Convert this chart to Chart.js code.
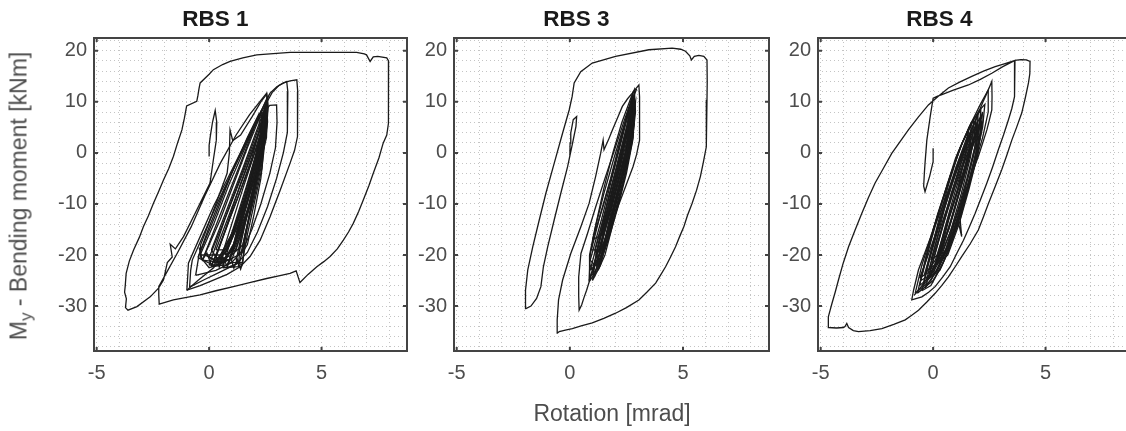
<!DOCTYPE html>
<html>
<head>
<meta charset="utf-8">
<title>RBS hysteresis</title>
<script src="https://cdn.jsdelivr.net/npm/chart.js@4.4.1/dist/chart.umd.min.js"></script>
<style>
  body { margin: 0; background: #fff; }
  #wrap { position: relative; width: 1126px; height: 431px; overflow: hidden; font-family: "Liberation Sans", Arial, sans-serif; }
  canvas { position: absolute; top: 0; }
  .axlabel { position: absolute; color: #4d4d4d; font-size: 23px; white-space: nowrap; line-height: 1; }
  #ylabel { left: 21px; top: 196px; transform: translate(-50%, -50%) rotate(-90deg); }
  #ylabel sub { font-size: 17px; vertical-align: -5px; }
  #xlabel { left: 612px; top: 413px; transform: translate(-50%, -50%); }
</style>
</head>
<body>
<div id="wrap">
  <canvas id="c1"></canvas>
  <canvas id="c2"></canvas>
  <canvas id="c3"></canvas>
  <div id="ylabel" class="axlabel">M<sub>y</sub> - Bending moment [kNm]</div>
  <div id="xlabel" class="axlabel">Rotation [mrad]</div>
</div>
<script>
// axis setup (rotation in mrad, moment in kNm)
const xMin = -5.12, xMax = 8.8;
const yMin = -38.8, yMax = 22.5;
const xMajor = [-5, 0, 5];
const yMajor = [-30, -20, -10, 0, 10, 20];
const xGrid = [-5, -4, -3, -2, -1, 0, 1, 2, 3, 4, 5, 6, 7, 8];
const yGrid = [-38, -36, -34, -32, -30, -28, -26, -24, -22, -20, -18, -16, -14, -12, -10, -8, -6, -4, -2,
               0, 2, 4, 6, 8, 10, 12, 14, 16, 18, 20, 22];
const panelTitles = ['RBS 1', 'RBS 3', 'RBS 4'];

// ---- RBS 1 : [rotation, moment] ----
const rbs1Outer = [[0,-0.7],[0,1.5],[0.05,3.2],[0.15,6],[0.27,8.3],[0.34,6],[0.32,2.5],[0.2,-1],[0.04,-5.9],[-0.55,-11.2],[-1.14,-16.4],[-1.5,-18.8],[-1.73,-17.9],[-1.64,-20.4],[-1.86,-21.5],[-2.03,-24.9],[-2.25,-26.5],[-2.62,-28.2],[-3.21,-30.1],[-3.61,-30.8],[-3.72,-30.3],[-3.68,-28.6],[-3.76,-27.3],[-3.73,-26.0],[-3.69,-23.6],[-3.55,-21.2],[-3.36,-19.0],[-3.1,-16.5],[-2.92,-14.4],[-2.7,-12.3],[-2.48,-9.9],[-2.25,-7.6],[-2.03,-5.3],[-1.8,-3.1],[-1.59,-0.7],[-1.4,2.0],[-1.21,4.5],[-1.1,6.8],[-1.0,9.2],[-0.55,10.1],[-0.5,11.2],[-0.45,12.6],[-0.4,13.7],[0.0,15.4],[0.19,16.3],[0.6,17.3],[0.93,17.9],[1.5,18.6],[2.12,19.2],[3.0,19.5],[3.6,19.7],[5.2,19.7],[6.56,19.7],[6.9,19.4],[7.0,19.2],[7.16,17.9],[7.3,18.8],[7.5,18.9],[7.9,18.6],[7.98,18.0],[7.98,12],[7.97,5.8],[7.9,3.5],[7.74,1.9],[7.55,-1],[7.3,-4.0],[7.1,-6.5],[6.86,-9.2],[6.65,-11.5],[6.41,-13.8],[6.2,-15.5],[5.97,-17.1],[5.7,-18.8],[5.38,-20.3],[5.1,-21.3],[4.79,-22.3],[4.4,-23.8],[4.04,-25.4],[3.87,-23.1],[3.6,-23.6],[3.1,-24.1],[2.56,-24.6],[1.8,-25.4],[1.08,-26.2],[0.3,-27.0],[-0.4,-27.8],[-1.0,-28.3],[-1.59,-28.8],[-2.22,-29.6],[-2.24,-27.8],[-2.24,-26.2],[-1.9,-23.5],[-1.4,-19.5],[-0.8,-14.5],[-0.2,-8.5],[0.5,-2],[1.2,3.5],[1.8,7.5],[2.3,10.3],[2.56,11.7],[2.62,9],[2.5,4],[2.2,-2],[1.8,-8],[1.3,-14],[0.8,-19],[0.2,-22.5],[-0.5,-25],[-0.99,-26.9]];
const rbs1Loop1 = [[-0.99,-26.9],[-0.95,-24],[-0.92,-21.6],[-0.4,-16.4],[0.19,-10.5],[0.79,-5.3],[1.38,-0.1],[1.97,5.2],[2.41,9.1],[2.71,11.7],[3.0,12.9],[3.3,13.7],[3.6,14.1],[3.9,14.3],[3.94,12],[3.93,3.2],[3.8,0.5],[3.6,-2.0],[3.16,-7.3],[2.71,-12.5],[2.27,-17.1],[1.82,-20.3],[1.38,-22.3],[0.8,-23.8],[0.19,-24.9],[-0.4,-26],[-0.99,-26.9]];
const rbs1Loop2 = [[-0.87,-26.3],[-0.82,-23],[-0.75,-21],[-0.2,-15.5],[0.4,-9.5],[1.0,-4],[1.55,1],[2.05,5.5],[2.45,9],[2.8,11.8],[3.1,13.2],[3.45,14.0],[3.5,12],[3.48,4],[3.3,0],[3.0,-5],[2.6,-10.5],[2.15,-15.5],[1.7,-19.5],[1.2,-21.8],[0.5,-23.3],[-0.2,-24.8],[-0.87,-26.3]];
const rbs1Loop3 = [[-0.6,-24],[-0.45,-20],[0.0,-14.5],[0.6,-8],[1.2,-2],[1.8,3.5],[2.3,7.5],[2.7,9.3],[3.0,9.4],[3.02,6],[2.95,1],[2.7,-4],[2.3,-10],[1.9,-15],[1.5,-19],[1.0,-21.5],[0.3,-23],[-0.6,-24]];
const rbs1Loop4 = [[-0.4,-20.3],[-0.38,-18],[-0.2,-16],[0.3,-10],[0.8,-4],[0.9,0],[0.93,4.5],[1.05,2.4],[1.4,3.5],[1.9,7],[2.3,10],[2.56,11.5],[2.62,9],[2.55,4],[2.3,-2],[1.95,-8],[1.5,-14],[1.1,-18.5],[0.6,-21.5],[0.0,-22.5],[-0.4,-20.3]];
const rbs1Core = [
  [[-0.3,-21],[0.5,-12],[1.4,-2],[2.1,6],[2.55,10.5],[2.6,6],[2.3,-2],[1.8,-10],[1.2,-17],[0.6,-21.5],[-0.3,-21]],
  [[0.0,-22],[0.7,-13],[1.5,-4],[2.2,4],[2.5,8.5],[2.5,4],[2.2,-4],[1.7,-12],[1.2,-18],[0.8,-22],[0.0,-22]],
  [[0.3,-20.5],[0.9,-13],[1.6,-5],[2.2,2],[2.45,7],[2.35,1],[2.0,-7],[1.5,-15],[1.0,-21],[0.3,-20.5]],
  [[0.6,-22.5],[1.1,-15],[1.6,-8],[2.1,0],[2.4,6],[2.3,0],[1.9,-9],[1.4,-17],[1.3,-22.3],[0.6,-22.5]],
  [[-0.4,-20],[0.2,-14],[0.9,-6],[1.6,1],[2.3,8],[2.4,4],[2.0,-3],[1.5,-10],[1.0,-16],[0.5,-20],[-0.4,-20]],
  [[0.9,-21.5],[1.3,-14],[1.8,-6],[2.2,0],[2.35,-2],[2.0,-9],[1.6,-16],[1.5,-21.5],[0.9,-21.5]],
  [[0.1,-19],[0.8,-11],[1.5,-3],[2.0,3],[2.5,9],[2.45,5],[2.0,-2],[1.6,-9],[1.1,-15],[0.4,-21],[0.1,-19]],
  [[1.0,-20],[1.4,-13],[1.9,-4],[2.2,2],[2.25,-3],[1.9,-10],[1.5,-18],[1.0,-20]],
  [[0.4,-22],[1.0,-16],[1.6,-9],[2.1,-2],[2.6,11],[2.55,3],[2.1,-5],[1.7,-12],[1.3,-20],[0.4,-22]],
  [[-0.5,-20.5],[0.3,-12],[1.0,-4],[1.7,3],[2.2,7.5],[2.3,3],[1.9,-5],[1.4,-13],[0.8,-19],[0.2,-22],[-0.5,-20.5]],
  [[0.2,-21.5],[0.8,-14],[1.4,-6],[1.9,0],[2.3,5],[2.5,9.5],[2.45,4],[2.1,-3],[1.7,-10],[1.3,-16],[0.9,-21],[0.2,-21.5]],
  [[0.5,-21],[1.0,-14],[1.5,-7],[1.95,-1],[2.35,5],[2.55,10],[2.5,5],[2.2,-1],[1.8,-8],[1.4,-14],[1.0,-20],[0.5,-21]],
  [[0.7,-20],[1.2,-13],[1.7,-6],[2.1,0],[2.4,5.5],[2.35,0],[2.0,-6],[1.6,-13],[1.2,-19],[0.7,-20]],
  [[-0.2,-20],[0.5,-13],[1.1,-6],[1.7,1],[2.2,6.5],[2.45,8],[2.3,2],[1.9,-5],[1.4,-12],[0.9,-18],[0.3,-21],[-0.2,-20]],
  [[1.2,-21],[1.5,-15],[1.9,-8],[2.2,-2],[2.45,3],[2.35,-3],[2.0,-10],[1.7,-16],[1.45,-22],[1.2,-21]],
  [[0.3,-19],[0.9,-12],[1.5,-5],[2.0,1],[2.35,6],[2.2,0],[1.8,-7],[1.3,-13],[0.8,-19],[0.3,-19]],
  [[0.0,-20.5],[0.6,-14],[1.2,-7],[1.8,0],[2.3,6],[2.6,10.5],[2.55,6],[2.25,0],[1.85,-7],[1.4,-14],[1.0,-19],[0.5,-21.5],[0.0,-20.5]],
  [[0.8,-22.5],[1.2,-16],[1.7,-9],[2.1,-3],[2.4,2],[2.5,4],[2.3,-2],[1.9,-10],[1.6,-17],[1.35,-21.5],[0.8,-22.5]],
  [[1.4,-20],[1.7,-14],[2.0,-7],[2.3,-1],[2.45,1],[2.3,-5],[2.0,-12],[1.7,-18],[1.4,-20]],
  [[0.1,-22.3],[0.7,-15.5],[1.3,-8.5],[1.9,-1],[2.4,7],[2.45,3],[2.1,-4],[1.6,-11],[1.1,-18],[0.6,-22],[0.1,-22.3]],
  [[-0.45,-18.5],[-0.3,-21],[-0.1,-19.6],[0.1,-22],[0.3,-20],[0.45,-22.4],[0.6,-20.2],[0.8,-22.2],[0.95,-20.4],[1.1,-22.6],[1.25,-20.8],[1.4,-22.8],[1.5,-21.5]]
];

// ---- RBS 3 ----
const rbs3Outer = [[0,-0.7],[0.01,1.9],[0.04,3.9],[0.15,6.5],[0.3,7.1],[0.27,5.2],[0.12,1.9],[-0.1,-2.7],[-0.4,-7.9],[-0.69,-13.1],[-0.98,-18.4],[-1.17,-22.3],[-1.28,-26.2],[-1.47,-28.5],[-1.72,-30.0],[-1.94,-30.5],[-1.96,-28.5],[-1.96,-26.9],[-1.86,-22.9],[-1.64,-18.4],[-1.35,-13.1],[-1.06,-7.9],[-0.69,-2.0],[-0.32,3.9],[-0.03,8.4],[0.1,11],[0.19,13.7],[0.48,15.9],[0.99,17.6],[2.02,18.9],[3.49,20.2],[4.52,20.5],[4.9,20.3],[5.11,19.9],[5.3,19.0],[5.37,18.2],[5.5,18.9],[5.7,19.1],[5.92,18.9],[6.06,18.2],[6.07,14],[6.06,10.4],[6.04,5],[6.02,1.2],[5.9,-1.8],[5.77,-4.6],[5.6,-7.3],[5.4,-9.9],[5.2,-12.2],[5.04,-14.4],[4.85,-16.4],[4.67,-18.4],[4.45,-20.4],[4.23,-22.3],[4.0,-24],[3.79,-25.5],[3.4,-27.3],[3.05,-28.8],[2.5,-30.3],[2.02,-31.4],[1.5,-32.4],[0.99,-33.3],[0.5,-33.9],[0.11,-34.4],[-0.2,-34.7],[-0.47,-35.0],[-0.55,-35.3],[-0.56,-32.7],[-0.5,-28.8],[-0.32,-24.9],[0.04,-19.7],[0.49,-14.4],[0.85,-9.9],[1.14,-4.6],[1.36,-0.1],[1.47,2.5],[1.51,0.6],[1.7,2.5],[1.88,4.5],[2.1,6.8],[2.32,9.1],[2.55,10.6],[2.76,11.7],[2.9,12.5],[3.05,13.3],[3.08,11],[3.08,7],[3.08,2.5],[2.95,-0.3],[2.79,-2.7],[2.57,-5.3],[2.35,-7.9],[2.13,-10.5],[1.91,-13.1],[1.69,-15.8],[1.47,-18.4],[1.25,-20.7],[1.03,-22.9],[0.88,-24.9],[0.74,-26.9],[0.62,-28.4],[0.52,-29.8],[0.41,-30.8],[0.39,-28],[0.39,-24.3],[0.49,-19.7],[0.78,-15.8],[1.14,-10.6],[1.58,-4.6],[2.02,1.2],[2.46,7.1],[2.76,10.4],[2.95,12.5]];
const rbs3Core = [
  [[0.85,-25.2],[0.9,-20],[1.15,-14],[1.5,-7],[1.9,0],[2.3,6],[2.7,10.8],[2.85,12.4],[2.9,8],[2.75,2],[2.4,-5],[2.0,-12],[1.6,-18],[1.2,-23],[0.85,-25.2]],
  [[1.0,-24],[1.3,-17],[1.7,-9],[2.1,-2],[2.5,5],[2.8,11],[2.83,6],[2.6,-1],[2.2,-8],[1.8,-15],[1.4,-21],[1.0,-24]],
  [[0.9,-21],[1.4,-13],[1.8,-6],[2.2,1],[2.55,7],[2.75,10],[2.7,4],[2.35,-3],[1.95,-10],[1.55,-17],[1.1,-22],[0.9,-21]],
  [[1.2,-22],[1.5,-15],[1.9,-8],[2.3,-1],[2.6,6],[2.7,8.5],[2.6,2],[2.3,-5],[1.9,-12],[1.5,-19],[1.2,-22]],
  [[1.1,-19],[1.6,-11],[2.0,-4],[2.4,3],[2.8,10],[2.72,3],[2.4,-3],[2.0,-10],[1.6,-17],[1.3,-21],[1.1,-19]],
  [[1.3,-20],[1.7,-12],[2.1,-5],[2.5,2],[2.65,5],[2.5,-1],[2.1,-8],[1.7,-15],[1.3,-20]],
  [[1.0,-17],[1.5,-10],[1.95,-3],[2.35,4],[2.6,9],[2.55,5],[2.25,-2],[1.85,-9],[1.45,-16],[1.0,-17]],
  [[1.4,-16],[1.8,-9],[2.2,-2],[2.55,4],[2.7,7],[2.45,0],[2.05,-7],[1.6,-14],[1.4,-16]],
  [[0.85,-25],[0.87,-20],[1.1,-15],[1.5,-8],[1.95,-1],[2.4,5.5],[2.78,11.5],[2.8,7],[2.5,0],[2.05,-7],[1.6,-14],[1.2,-20],[0.85,-25]],
  [[0.9,-23],[1.3,-16],[1.75,-8],[2.2,-1],[2.6,6],[2.85,11],[2.85,6],[2.6,0],[2.2,-7],[1.8,-14],[1.35,-21],[0.9,-23]],
  [[1.05,-22],[1.45,-15],[1.85,-8],[2.25,-1],[2.6,5],[2.75,9],[2.7,3],[2.4,-3],[2.0,-10],[1.6,-17],[1.25,-22],[1.05,-22]],
  [[1.15,-20],[1.55,-13],[1.95,-6],[2.35,1],[2.65,7],[2.6,1],[2.3,-5],[1.9,-12],[1.5,-18],[1.15,-20]],
  [[0.95,-19],[1.35,-12],[1.8,-5],[2.2,2],[2.55,7.5],[2.75,11],[2.7,6],[2.45,0],[2.1,-6],[1.7,-13],[1.3,-19],[0.95,-19]],
  [[1.25,-23],[1.55,-17],[1.9,-10],[2.3,-3],[2.65,3],[2.8,6],[2.65,0],[2.3,-7],[1.9,-14],[1.55,-20],[1.25,-23]],
  [[1.0,-25],[1.2,-19],[1.6,-12],[2.0,-5],[2.45,2],[2.8,8.5],[2.9,10],[2.8,4],[2.5,-2],[2.1,-9],[1.7,-16],[1.35,-22],[1.0,-25]],
  [[1.5,-18],[1.9,-11],[2.3,-4],[2.6,2],[2.75,5],[2.55,-2],[2.2,-9],[1.8,-15],[1.5,-18]],
  [[0.9,-22],[1.1,-24],[1.4,-18],[1.8,-11],[2.2,-4],[2.5,1],[2.85,9],[2.8,3],[2.5,-4],[2.1,-11],[1.7,-17],[1.3,-22],[0.9,-22]]
];

// ---- RBS 4 ----
const rbs4Outer = [[0.0,0.9],[0.0,-1.7],[-0.15,-4.5],[-0.36,-7.6],[-0.42,-6.5],[-0.39,-4],[-0.36,-2.0],[-0.28,2.5],[-0.13,7.1],[0.0,10.7],[0.2,11.1],[0.39,11.4],[0.9,12.3],[1.57,13.3],[2.1,14.4],[2.61,15.6],[3.1,16.9],[3.64,18.1],[3.9,18.25],[4.15,18.2],[4.31,17.9],[4.3,15.5],[4.24,13.7],[4.1,10.8],[3.94,7.8],[3.72,5.1],[3.5,2.5],[3.28,-0.4],[3.05,-3.3],[2.76,-6.6],[2.46,-9.9],[2.24,-12.5],[2.01,-15.1],[1.65,-17.8],[1.27,-20.3],[0.98,-22.3],[0.68,-24.3],[0.38,-26],[0.09,-27.5],[-0.28,-29.2],[-0.65,-30.8],[-0.95,-31.8],[-1.24,-32.7],[-1.75,-33.6],[-2.28,-34.4],[-2.8,-34.8],[-3.32,-35.0],[-3.55,-34.8],[-3.76,-34.2],[-3.84,-33.4],[-3.92,-34.0],[-3.99,-34.2],[-4.3,-34.3],[-4.65,-34.2],[-4.67,-33.2],[-4.65,-32.1],[-4.58,-30.8],[-4.5,-29.5],[-4.35,-27.2],[-4.21,-24.9],[-4.0,-21.6],[-3.76,-18.4],[-3.47,-15.1],[-3.17,-11.8],[-2.88,-8.8],[-2.58,-5.9],[-2.21,-3.0],[-1.84,-0.1],[-1.47,2.2],[-1.1,4.5],[-0.66,7.0],[-0.21,9.4],[0.23,11.1],[0.68,12.7],[1.2,13.9],[1.72,15.0],[2.24,16.0],[2.76,16.9],[3.2,17.5],[3.64,18.1],[3.63,14.5],[3.61,11.0],[3.5,8.7],[3.35,6.5],[3.13,3.5],[2.9,0.6],[2.65,-2.7],[2.39,-5.9],[2.13,-8.9],[1.87,-11.8],[1.61,-14.5],[1.35,-17.1],[1.05,-19.7],[0.76,-22.3],[0.43,-24.3],[0.09,-26.2],[-0.2,-27.3],[-0.5,-28.2],[-0.95,-28.8],[-0.87,-26.9],[-0.65,-22.9],[-0.21,-17.7],[0.24,-12.5],[0.68,-7.3],[1.13,-2.0],[1.57,3.2],[2.01,7.8],[2.2,9.8],[2.39,11.7],[2.61,14.0],[2.62,11],[2.61,8.4],[2.5,6.4],[2.39,4.5],[2.2,1.9],[2.01,-0.7],[1.79,-3.3],[1.57,-5.9],[1.35,-8.5],[1.13,-11.2],[0.9,-13.8],[0.68,-16.4],[0.46,-18.7],[0.24,-21.0],[0.0,-22.7],[-0.21,-24.3],[-0.43,-25.6],[-0.65,-26.9],[-0.85,-27.9]];
const rbs4Core = [
  [[-0.5,-27],[-0.2,-21],[0.2,-14],[0.7,-6],[1.2,1],[1.7,6],[2.12,8.4],[2.1,4],[1.8,-2],[1.4,-9],[0.9,-16],[0.4,-22],[-0.1,-26],[-0.5,-27]],
  [[-0.3,-25],[0.1,-18],[0.5,-11],[1.0,-4],[1.5,2],[2.0,7.5],[1.95,3],[1.6,-4],[1.2,-11],[0.7,-18],[0.2,-23],[-0.3,-25]],
  [[-0.6,-26],[-0.3,-20],[0.2,-12],[0.8,-4],[1.3,2],[1.8,6.5],[1.75,2],[1.35,-5],[0.9,-12],[0.4,-19],[-0.1,-24],[-0.6,-26]],
  [[-0.2,-23],[0.3,-16],[0.8,-8],[1.3,-1],[1.7,4],[1.9,5],[1.65,-1],[1.25,-8],[0.8,-15],[0.3,-21],[-0.2,-23]],
  [[0.0,-24],[0.4,-17],[0.9,-10],[1.4,-3],[1.85,3],[2.2,6],[2.0,1],[1.6,-6],[1.2,-13],[1.27,-16.4],[1.13,-13.7],[0.7,-19],[0.3,-23],[0.0,-24]],
  [[-0.4,-24],[0.0,-18],[0.5,-10],[1.0,-3],[1.5,3],[1.6,5],[1.45,0],[1.1,-7],[0.6,-14],[0.1,-21],[-0.4,-24]],
  [[0.2,-21],[0.6,-14],[1.1,-7],[1.6,0],[2.0,5],[1.9,0],[1.5,-7],[1.0,-14],[0.5,-20],[0.2,-21]],
  [[-0.7,-27.5],[-0.4,-22],[0.0,-15],[0.6,-7],[1.1,0],[1.6,5],[2.05,8.3],[2.3,9.5],[2.2,5],[1.9,-1],[1.5,-8],[1.0,-15],[0.5,-21],[0.0,-25],[-0.7,-27.5]],
  [[-0.8,-27.5],[-0.5,-22],[0,-15],[0.5,-8],[1.0,-1],[1.6,5],[2.1,9.5],[2.45,12.3],[2.45,8],[2.2,3],[1.8,-3],[1.35,-10],[0.9,-16],[0.4,-21],[-0.1,-25],[-0.8,-27.5]],
  [[-0.45,-26],[-0.1,-20],[0.35,-13],[0.85,-6],[1.35,0],[1.85,5],[2.1,7],[1.95,2],[1.6,-4],[1.15,-11],[0.65,-18],[0.15,-23],[-0.45,-26]],
  [[-0.2,-24.5],[0.2,-18],[0.65,-11],[1.15,-4],[1.6,1.5],[1.95,6],[1.85,1],[1.5,-5],[1.05,-12],[0.55,-19],[0.05,-23],[-0.2,-24.5]],
  [[-0.55,-25],[-0.2,-19],[0.3,-11],[0.8,-4],[1.3,2],[1.7,5.5],[1.6,1],[1.25,-6],[0.8,-13],[0.3,-20],[-0.15,-24],[-0.55,-25]],
  [[0.1,-22],[0.5,-15],[0.95,-8],[1.45,-1],[1.9,4],[2.15,6],[2.0,0],[1.6,-7],[1.15,-14],[0.65,-20],[0.1,-22]],
  [[-0.35,-26.5],[0.0,-21],[0.45,-14],[0.95,-7],[1.45,-1],[1.9,3.5],[2.2,8],[2.1,3],[1.75,-3],[1.3,-10],[0.8,-17],[0.3,-22],[-0.35,-26.5]],
  [[-0.1,-21],[0.3,-15],[0.75,-9],[1.25,-2],[1.7,3],[1.55,-2],[1.15,-8],[0.7,-15],[0.2,-20],[-0.1,-21]],
  [[-0.6,-24.5],[-0.3,-21],[0.1,-16],[0.6,-9],[1.1,-2],[1.55,3],[1.9,6.5],[1.8,2],[1.4,-4],[0.95,-11],[0.45,-18],[-0.05,-23],[-0.6,-24.5]],
  [[0.3,-20],[0.7,-13],[1.2,-6],[1.65,0],[2.05,4.5],[1.95,-1],[1.55,-7],[1.1,-14],[0.6,-19],[0.3,-20]]
];

const panelLoops = [
  [rbs1Outer, rbs1Loop1, rbs1Loop2, rbs1Loop3, rbs1Loop4, ...rbs1Core],
  [rbs3Outer, ...rbs3Core],
  [rbs4Outer, ...rbs4Core]
];

// layout of the three axes boxes (page pixels)
const plotLeft = [94, 454, 818];
const plotWidth = [313, 315, 313];
const yAxisW = 70, rightPad = 10, xAxisH = 80;

const axisColor = '#444444';
const tickColor = '#4d4d4d';
const gridColor = '#c4c4c4';
const lineColor = '#1a1a1a';
const fontFamily = '"Liberation Sans", Arial, sans-serif';

// full box + inward tick marks like the original figure
const boxPlugin = {
  id: 'box',
  afterDraw(chart) {
    const { ctx, chartArea: a, scales: { x, y } } = chart;
    ctx.save();
    ctx.strokeStyle = axisColor;
    ctx.lineWidth = 2;
    ctx.strokeRect(a.left, a.top, a.right - a.left, a.bottom - a.top);
    ctx.beginPath();
    xMajor.forEach(v => {
      const p = x.getPixelForValue(v);
      ctx.moveTo(p, a.bottom); ctx.lineTo(p, a.bottom - 4);
      ctx.moveTo(p, a.top); ctx.lineTo(p, a.top + 4);
    });
    yMajor.forEach(v => {
      const p = y.getPixelForValue(v);
      ctx.moveTo(a.left, p); ctx.lineTo(a.left + 4, p);
      ctx.moveTo(a.right, p); ctx.lineTo(a.right - 4, p);
    });
    ctx.stroke();
    ctx.restore();
  }
};

function makeChart(i) {
  const canvas = document.getElementById('c' + (i + 1));
  canvas.width = yAxisW + plotWidth[i] + rightPad;
  canvas.height = 431;
  canvas.style.left = (plotLeft[i] - yAxisW) + 'px';

  const datasets = panelLoops[i].map(loop => ({
    data: loop.map(([x, y]) => ({ x, y })),
    showLine: true,
    borderColor: lineColor,
    borderWidth: 1.3,
    pointRadius: 0,
    fill: false,
    tension: 0
  }));

  return new Chart(canvas.getContext('2d'), {
    type: 'scatter',
    data: { datasets },
    plugins: [boxPlugin],
    options: {
      responsive: false,
      animation: false,
      devicePixelRatio: 1,
      events: [],
      layout: { padding: { left: 0, right: rightPad, top: 0, bottom: 0 } },
      plugins: {
        legend: { display: false },
        tooltip: { enabled: false },
        title: {
          display: true,
          text: panelTitles[i],
          color: '#1a1a1a',
          font: { family: fontFamily, size: 22.5, weight: 'bold', lineHeight: 1.2 },
          padding: { top: 6, bottom: 5 }
        }
      },
      scales: {
        x: {
          type: 'linear',
          min: xMin,
          max: xMax,
          afterBuildTicks: s => { s.ticks = xGrid.map(v => ({ value: v })); },
          afterFit: s => { s.height = xAxisH; },
          ticks: {
            autoSkip: false,
            maxRotation: 0,
            padding: 10,
            color: tickColor,
            font: { family: fontFamily, size: 20 },
            callback: v => xMajor.includes(v) ? String(v) : ''
          },
          grid: { color: gridColor, lineWidth: 1, drawTicks: false },
          border: { display: false, dash: [1, 3] }
        },
        y: {
          type: 'linear',
          min: yMin,
          max: yMax,
          afterBuildTicks: s => { s.ticks = yGrid.map(v => ({ value: v })); },
          afterFit: s => { s.width = yAxisW; },
          ticks: {
            autoSkip: false,
            padding: 7,
            color: tickColor,
            font: { family: fontFamily, size: 20 },
            callback: v => yMajor.includes(v) ? String(v) : ''
          },
          grid: { color: gridColor, lineWidth: 1, drawTicks: false },
          border: { display: false, dash: [1, 3] }
        }
      }
    }
  });
}

[0, 1, 2].forEach(makeChart);
</script>
</body>
</html>
